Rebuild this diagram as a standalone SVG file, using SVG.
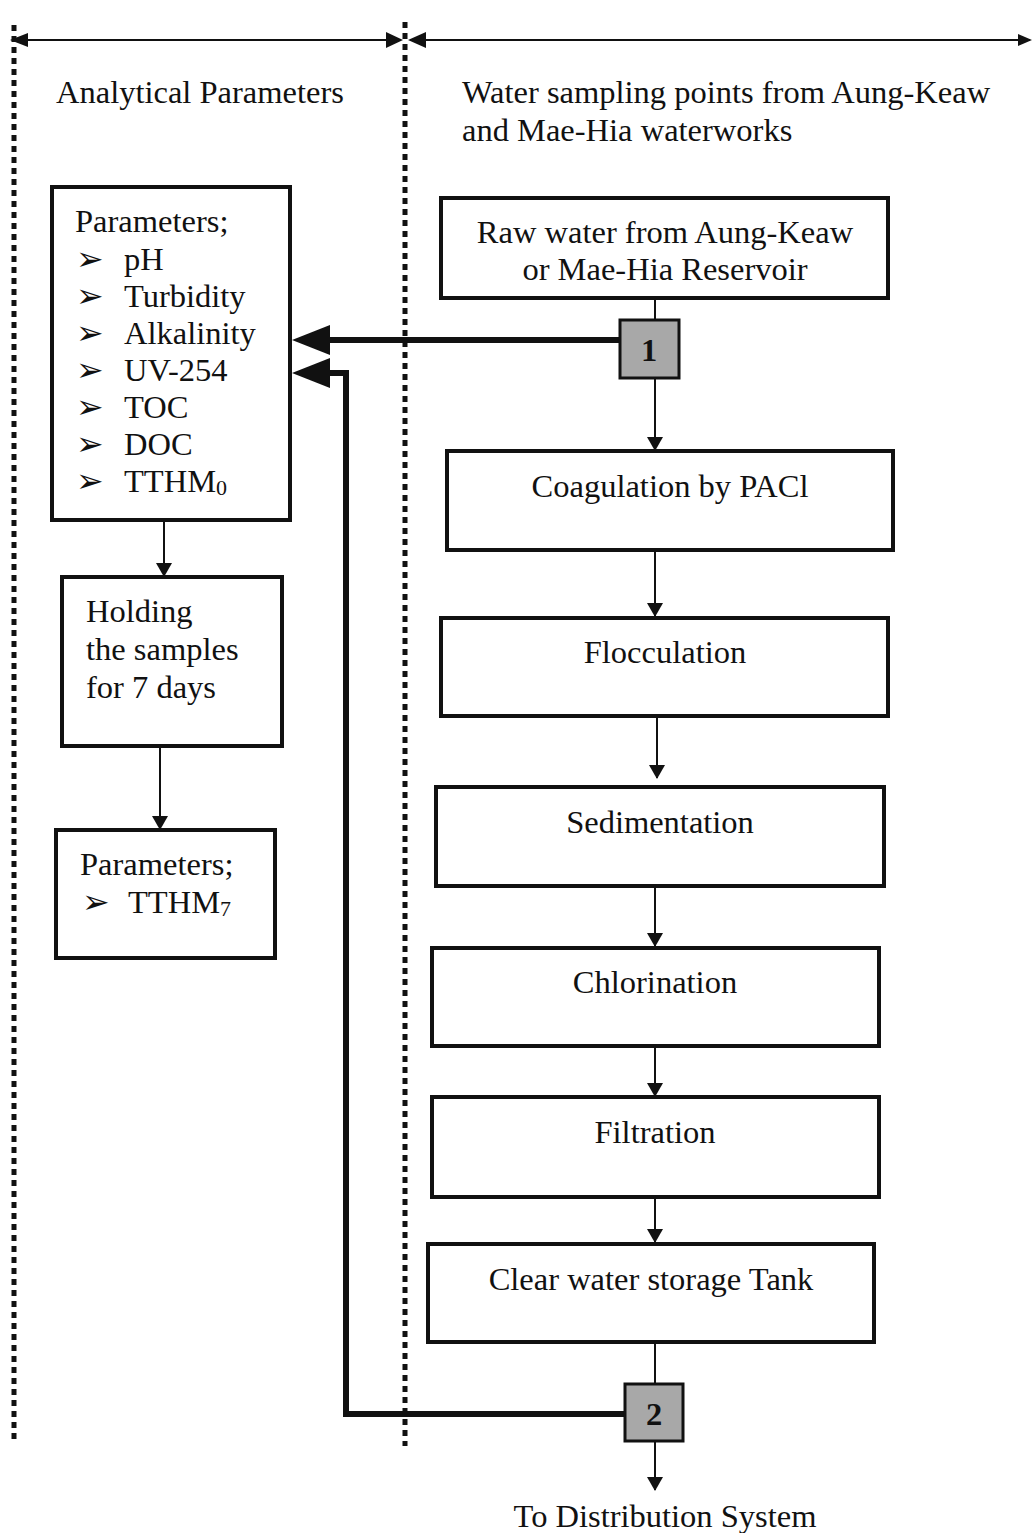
<svg xmlns="http://www.w3.org/2000/svg" width="1033" height="1533" viewBox="0 0 1033 1533">
<defs>
<style>
.t{font-family:"Liberation Serif","Times New Roman",serif;font-size:32.5px;fill:#111}
.c{text-anchor:middle}
.box{fill:#fff;stroke:#111;stroke-width:4}
.pt{fill:#a8a8a8;stroke:#111;stroke-width:3}
.ln{fill:none;stroke:#111;stroke-width:2}
.thick{fill:none;stroke:#111;stroke-width:6}
.dl{fill:none;stroke:#111;stroke-width:5;stroke-dasharray:6 5}
</style>
<marker id="ah" markerWidth="14" markerHeight="16" refX="13" refY="8" orient="auto" markerUnits="userSpaceOnUse">
<path d="M0,0 L14,8 L0,16 Z" fill="#111"/>
</marker>
</defs>
<rect width="1033" height="1533" fill="#fff"/>
<g id="guides">
<line class="dl" x1="14" y1="25" x2="14" y2="1442"/>
<line class="dl" x1="405" y1="22" x2="405" y2="1446"/>
<line class="ln" x1="14" y1="40" x2="400" y2="40"/>
<line class="ln" x1="410" y1="40" x2="1030" y2="40"/>
<polygon points="10,40 28,33 28,47" fill="#111"/>
<polygon points="403,40 386,32 386,48" fill="#111"/>
<polygon points="408,40 426,32 426,48" fill="#111"/>
<polygon points="1032,40 1018,34 1018,46" fill="#111"/>
<text class="t" x="56" y="103">Analytical Parameters</text>
<text class="t" x="462" y="103">Water sampling points from Aung-Keaw</text>
<text class="t" x="462" y="141">and Mae-Hia waterworks</text>
</g>
<g id="connectors">
<line class="ln" x1="655" y1="298" x2="655" y2="320"/>
<line class="ln" x1="655" y1="378" x2="655" y2="450" marker-end="url(#ah)"/>
<line class="ln" x1="655" y1="550" x2="655" y2="616" stroke-width="3" marker-end="url(#ah)"/>
<line class="ln" x1="657" y1="716" x2="657" y2="778" marker-end="url(#ah)"/>
<line class="ln" x1="655" y1="886" x2="655" y2="946" marker-end="url(#ah)"/>
<line class="ln" x1="655" y1="1046" x2="655" y2="1096" marker-end="url(#ah)"/>
<line class="ln" x1="655" y1="1197" x2="655" y2="1242" marker-end="url(#ah)"/>
<line class="ln" x1="655" y1="1342" x2="655" y2="1384"/>
<line class="ln" x1="655" y1="1441" x2="655" y2="1490" marker-end="url(#ah)"/>
<line class="ln" x1="164" y1="520" x2="164" y2="576" marker-end="url(#ah)"/>
<line class="ln" x1="160" y1="746" x2="160" y2="829" marker-end="url(#ah)"/>
<line class="thick" x1="620" y1="340" x2="325" y2="340"/>
<polygon points="292,340 330,325 330,355" fill="#111"/>
<polyline class="thick" points="625,1414 346,1414 346,373 325,373"/>
<polygon points="292,373 330,358 330,388" fill="#111"/>
</g>
<g id="n-params">
<rect class="box" x="52" y="187" width="238" height="333"/>
<text class="t" x="75" y="232">Parameters;</text>
<g class="t">
<text x="76" y="270">➢</text><text x="124" y="270">pH</text>
<text x="76" y="307">➢</text><text x="124" y="307">Turbidity</text>
<text x="76" y="344">➢</text><text x="124" y="344">Alkalinity</text>
<text x="76" y="381">➢</text><text x="124" y="381">UV-254</text>
<text x="76" y="418">➢</text><text x="124" y="418">TOC</text>
<text x="76" y="455">➢</text><text x="124" y="455">DOC</text>
<text x="76" y="492">➢</text><text x="124" y="492">TTHM<tspan font-size="22" dy="3">0</tspan></text>
</g>
</g>
<g id="n-holding">
<rect class="box" x="62" y="577" width="220" height="169"/>
<text class="t" x="86" y="622">Holding</text>
<text class="t" x="86" y="660">the samples</text>
<text class="t" x="86" y="698">for 7 days</text>
</g>
<g id="n-params7">
<rect class="box" x="56" y="830" width="219" height="128"/>
<text class="t" x="80" y="875">Parameters;</text>
<text class="t" x="82" y="913">➢</text>
<text class="t" x="128" y="913">TTHM<tspan font-size="22" dy="3">7</tspan></text>
</g>
<g id="n-raw">
<rect class="box" x="441" y="198" width="447" height="100"/>
<text class="t c" x="665" y="243">Raw water from Aung-Keaw</text>
<text class="t c" x="665" y="280">or Mae-Hia Reservoir</text>
</g>
<g id="n-p1">
<rect class="pt" x="620" y="320" width="59" height="58"/>
<text class="t c" x="649" y="361" font-weight="bold" font-size="28">1</text>
</g>
<g id="n-coag">
<rect class="box" x="447" y="451" width="446" height="99"/>
<text class="t c" x="670" y="497">Coagulation by PACl</text>
</g>
<g id="n-floc">
<rect class="box" x="441" y="618" width="447" height="98"/>
<text class="t c" x="665" y="663">Flocculation</text>
</g>
<g id="n-sed">
<rect class="box" x="436" y="787" width="448" height="99"/>
<text class="t c" x="660" y="833">Sedimentation</text>
</g>
<g id="n-chlor">
<rect class="box" x="432" y="948" width="447" height="98"/>
<text class="t c" x="655" y="993">Chlorination</text>
</g>
<g id="n-filt">
<rect class="box" x="432" y="1097" width="447" height="100"/>
<text class="t c" x="655" y="1143">Filtration</text>
</g>
<g id="n-clear">
<rect class="box" x="428" y="1244" width="446" height="98"/>
<text class="t c" x="651" y="1290">Clear water storage Tank</text>
</g>
<g id="n-p2">
<rect class="pt" x="625" y="1384" width="58" height="57"/>
<text class="t c" x="654" y="1425" font-weight="bold" font-size="28">2</text>
</g>
<text class="t c" x="665" y="1527">To Distribution System</text>
</svg>
